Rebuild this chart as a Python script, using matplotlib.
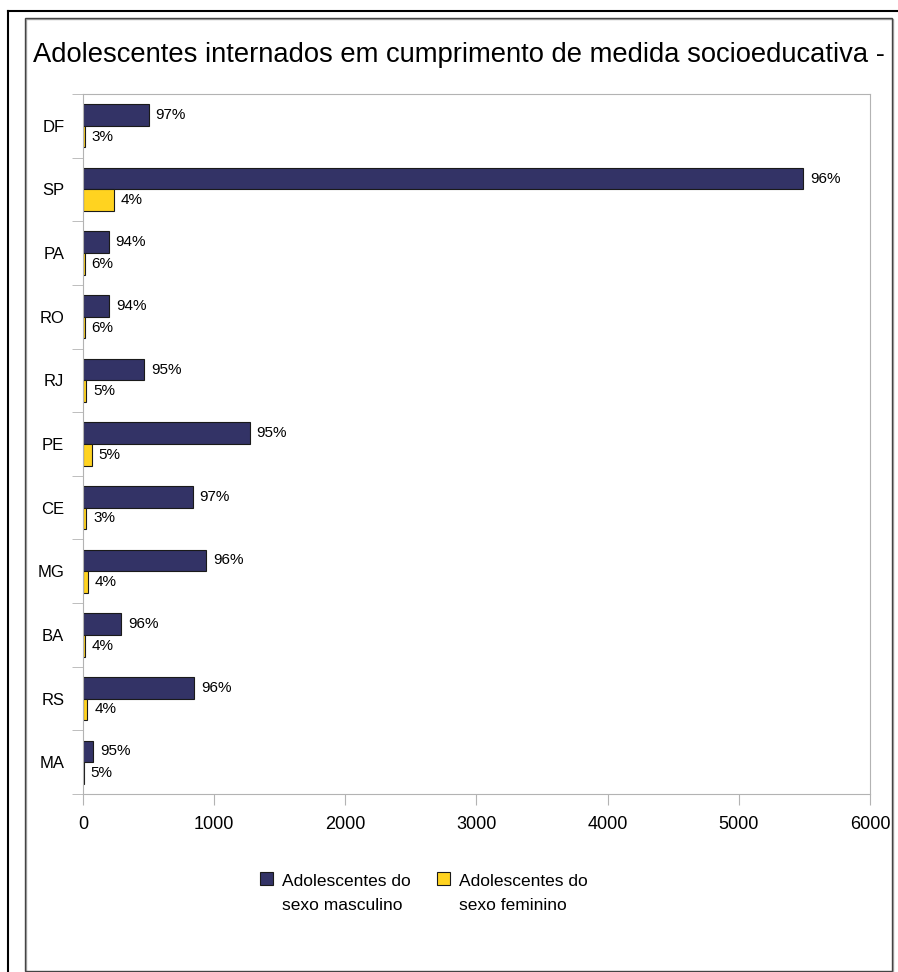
import numpy as np
import matplotlib
matplotlib.use("Agg")
import matplotlib.pyplot as plt
from matplotlib.patches import Rectangle
from matplotlib.lines import Line2D

plt.rcParams['font.family'] = ['Liberation Sans', 'DejaVu Sans']

# internações por UF (adolescentes), masculino / feminino
estados = ['DF', 'SP', 'PA', 'RO', 'RJ', 'PE', 'CE', 'MG', 'BA', 'RS', 'MA']
masculino = [500, 5490, 196, 198, 465, 1270, 836, 940, 290, 846, 79]
feminino = [15, 235, 12, 12, 25, 67, 26, 39, 12, 33, 4]

titulo = 'Adolescentes internados em cumprimento de medida socioeducativa -'
rotulos = ['Adolescentes do\nsexo masculino', 'Adolescentes do\nsexo feminino']
cores = ['#333366', '#ffd320']

W, H = 898, 972
fig = plt.figure(figsize=(W / 100, H / 100), dpi=100)

def fx(px):
    return px / W

def fy(py):
    return 1 - py / H

# moldura externa e caixa do gráfico
fig.add_artist(Line2D([fx(8), fx(8)], [fy(11), 0], color='black', lw=1.5))
fig.add_artist(Line2D([fx(8), 1], [fy(11), fy(11)], color='black', lw=1.5))
fig.add_artist(Rectangle((fx(26), fy(972)), fx(867), fy(19) - fy(972),
                         fill=False, edgecolor='#aaaaaa', lw=1))
fig.add_artist(Rectangle((fx(25), fy(971)), fx(867), fy(18) - fy(971),
                         fill=False, edgecolor='#444444', lw=1))

fig.text(fx(33), fy(55), titulo, fontsize=19.7, va='center', ha='left')

ax = fig.add_axes([fx(83), fy(794), fx(870) - fx(83), fy(94) - fy(794)])

y = np.arange(len(estados))
h = 0.34
masc = np.array(masculino)
fem = np.array(feminino)
total = masc + fem

ax.barh(y - h / 2, masc, height=h, color=cores[0], edgecolor='#1a1a1a', lw=0.8)
ax.barh(y + h / 2, fem, height=h, color=cores[1], edgecolor='#1a1a1a', lw=0.8)

for i in range(len(estados)):
    pm = round(100 * masc[i] / total[i])
    pf = round(100 * fem[i] / total[i])
    ax.annotate(f'{pm}%', (masc[i], y[i] - h / 2), xytext=(5, 0),
                textcoords='offset points', va='center', fontsize=11)
    ax.annotate(f'{pf}%', (fem[i], y[i] + h / 2), xytext=(5, 0),
                textcoords='offset points', va='center', fontsize=11)

ax.set_xlim(0, 6000)
ax.set_ylim(len(estados) - 0.5, -0.5)
ax.set_xticks(np.arange(0, 6001, 1000))
ax.set_yticks(y)
ax.set_yticklabels(estados)
ax.set_yticks(np.arange(-0.5, len(estados), 1), minor=True)
ax.tick_params(axis='y', which='major', length=0, pad=13.5, labelsize=12)
ax.tick_params(axis='y', which='minor', length=8, color='#b3b3b3')
ax.tick_params(axis='x', length=8, color='#b3b3b3', labelsize=13, pad=8)
for s in ax.spines.values():
    s.set_color('#b3b3b3')

# legenda
for k, x0 in enumerate([260, 437]):
    fig.add_artist(Rectangle((fx(x0), fy(885)), fx(13), fy(872) - fy(885),
                             facecolor=cores[k], edgecolor='#1a1a1a', lw=0.8))
    fig.text(fx(x0 + 22), fy(874), rotulos[k], fontsize=12.5, va='top',
             ha='left', linespacing=1.75)

fig.savefig('out.png', dpi=100)
